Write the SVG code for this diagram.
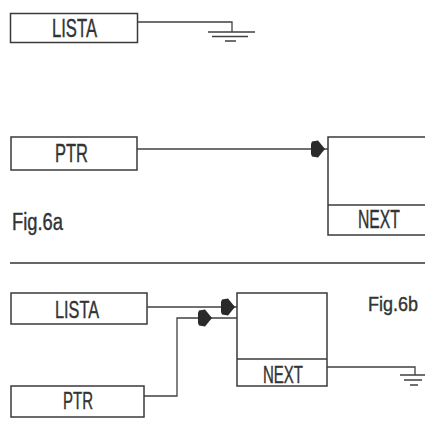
<svg xmlns="http://www.w3.org/2000/svg" xmlns:xlink="http://www.w3.org/1999/xlink" width="425" height="442" viewBox="0 0 425 442">
<style>
.box{fill:none;stroke:#3a3a3a;stroke-width:1.5}
.ln{fill:none;stroke:#404040;stroke-width:1.3}
.t{font-family:"Liberation Sans",Arial,sans-serif;fill:#333;stroke:#333;stroke-width:0.4}
.ah{fill:#2a2a2a}
</style>
<defs>
<path id="ah" d="M-14,-5 L-13,-7.5 L-7,-8.5 L0,0 L-7,8.5 L-13,7.5 L-14,5 Z"/>
</defs>
<rect width="425" height="442" fill="#fff"/>

<g id="lista1">
<rect class="box" x="10.5" y="13.5" width="127" height="29"/>
<text class="t" x="52" y="37" font-size="26" textLength="45" lengthAdjust="spacingAndGlyphs">LISTA</text>
</g>
<g id="ptr1">
<rect class="box" x="11" y="137" width="126" height="33"/>
<text class="t" x="55" y="162" font-size="25" textLength="33" lengthAdjust="spacingAndGlyphs">PTR</text>
</g>
<g id="node1">
<rect class="box" x="328" y="137" width="110" height="98"/>
<line class="box" x1="328" y1="205" x2="438" y2="205"/>
<text class="t" x="358" y="228" font-size="25" textLength="42" lengthAdjust="spacingAndGlyphs">NEXT</text>
</g>
<g id="fig6a">
<text class="t" x="12" y="230" font-size="23" textLength="51" lengthAdjust="spacingAndGlyphs">Fig.6a</text>
</g>
<g id="separator">
<line x1="10" y1="263" x2="425" y2="263" stroke="#333" stroke-width="1.6"/>
</g>
<g id="lista2">
<rect class="box" x="11" y="293" width="136" height="31"/>
<text class="t" x="55" y="318" font-size="23" textLength="44" lengthAdjust="spacingAndGlyphs">LISTA</text>
</g>
<g id="ptr2">
<rect class="box" x="11" y="386" width="133" height="31"/>
<text class="t" x="63" y="409" font-size="23" textLength="30" lengthAdjust="spacingAndGlyphs">PTR</text>
</g>
<g id="node2">
<rect class="box" x="237" y="293" width="90" height="93"/>
<line class="box" x1="237" y1="359" x2="327" y2="359"/>
<text class="t" x="263" y="383" font-size="23" textLength="40" lengthAdjust="spacingAndGlyphs">NEXT</text>
</g>
<g id="fig6b">
<text class="t" x="368" y="311" font-size="21" textLength="50" lengthAdjust="spacingAndGlyphs">Fig.6b</text>
</g>

<g id="connectors">
<path class="ln" d="M137 22 H232 V32"/>
<path class="ln" d="M208 32 H255 M212 36.5 H248 M225 41 H236"/>
<path class="ln" d="M137 149 H328"/>
<use xlink:href="#ah" class="ah" transform="translate(325,149)"/>
<path class="ln" d="M147 307 H237"/>
<use xlink:href="#ah" class="ah" transform="translate(235,307)"/>
<path class="ln" d="M144 396 H177 V318 H237"/>
<use xlink:href="#ah" class="ah" transform="translate(212,318)"/>
<path class="ln" d="M327 367 H415 V375"/>
<path class="ln" d="M400 375 H426 M404 380 H422 M410 385 H418"/>
</g>
</svg>
